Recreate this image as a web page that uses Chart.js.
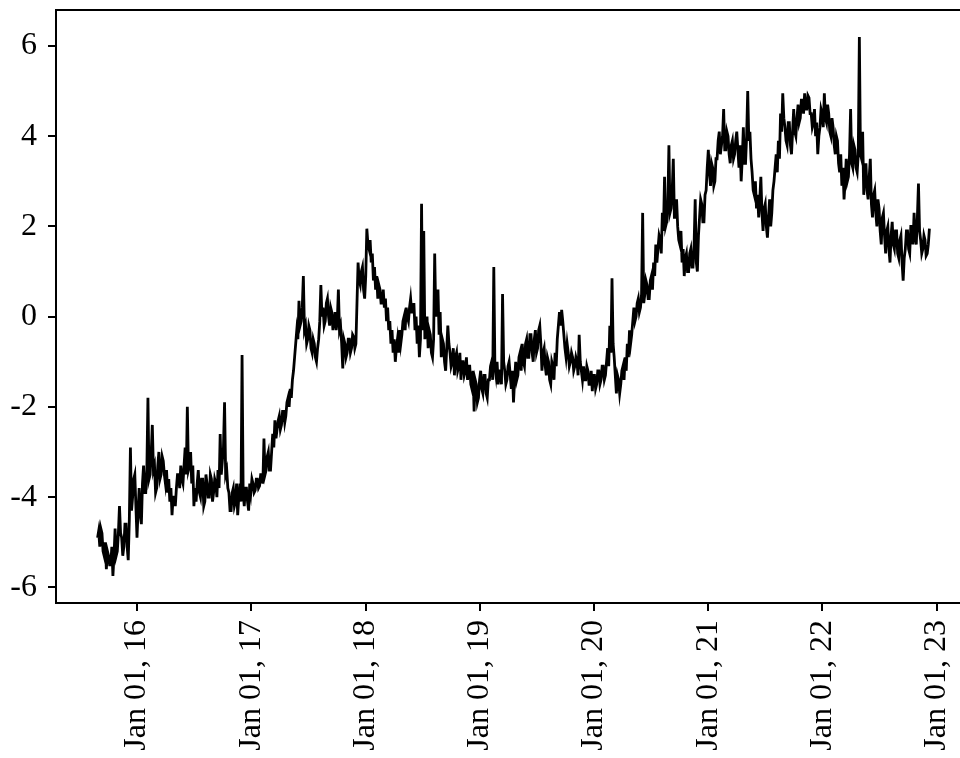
<!DOCTYPE html>
<html>
<head>
<meta charset="utf-8">
<script src="https://cdn.jsdelivr.net/npm/chart.js@4/dist/chart.umd.min.js"></script>
<style>
  html, body { margin: 0; padding: 0; background: #fff; overflow: hidden; }
  #wrap { width: 960px; height: 758px; overflow: hidden; }
  canvas { display: block; }
</style>
</head>
<body>
<div id="wrap"><canvas id="chart" width="1000" height="758"></canvas></div>
<script>
// Half-weekly observations (every 3.5 days), starting Friday 28 Aug 2015
const firstObservation = Date.UTC(2015, 7, 28);
const stepDays = 3.5;

const obs2015 = [-4.9, -4.75, -5.1, -4.7, -4.8, -5.2, -5.3, -5.0, -5.6, -5.2, -5.3, -5.5, -5.5, -5.1, -5.75, -5.3,
  -4.7, -5.3, -5.2, -4.8, -4.2, -4.8, -4.9, -5.3, -5.1, -4.6, -4.6, -5.1, -5.4, -4.5, -2.9, -4.3, -4.0, -3.6, -3.5, -4.2];
const obs2016 = [-4.9, -4.3, -3.8, -4.4, -4.6, -3.7, -3.3, -3.9, -3.9, -3.4, -1.8, -3.6, -3.5, -3.0, -2.4, -3.4,
  -3.3, -3.9, -3.8, -3.3, -3.0, -3.6, -3.5, -3.1, -3.2, -3.5, -3.7, -3.4, -3.9, -3.6, -4.1, -3.8, -4.4, -4.0,
  -4.0, -4.2, -3.8, -3.5, -3.5, -3.8, -3.3, -3.6, -3.7, -3.3, -2.9, -3.5, -2.0, -3.4, -3.3, -3.0, -3.7, -3.3,
  -4.2, -3.8, -4.1, -3.7, -3.4, -3.9, -4.0, -3.6, -3.6, -4.2, -4.1, -3.5, -3.7, -4.0, -4.0, -3.5, -3.6, -4.1,
  -3.9, -3.6, -3.7, -4.0, -3.4, -3.8, -2.6, -3.5, -3.2, -2.9, -1.9, -3.5, -3.4, -3.8, -3.9, -4.3, -4.3, -3.9,
  -3.8, -4.2, -4.1, -3.7, -4.4, -4.0, -3.7, -4.1, -0.85, -3.9, -4.2, -3.8, -3.8, -4.1, -4.3, -3.7, -3.9, -3.6];
const obs2017 = [-3.7, -3.9, -3.85, -3.6, -3.6, -3.8, -3.75, -3.5, -3.5, -3.7, -2.7, -3.5, -3.4, -3.1, -3.0, -3.4,
  -3.4, -3.0, -2.6, -2.9, -2.3, -2.7, -2.5, -2.3, -2.2, -2.5, -2.4, -2.1, -2.1, -2.35, -2.2, -1.9, -1.8, -2.0,
  -1.6, -1.8, -1.4, -1.2, -0.9, -0.6, -0.3, -0.5, 0.35, -0.2, -0.1, 0.2, 0.9, -0.3, -0.2, -0.6, -0.5, -0.2,
  -0.3, -0.7, -0.8, -0.5, -0.6, -0.9, -1.0, -0.7, -0.5, -0.1, 0.7, 0.0, 0.2, -0.2, -0.1, 0.3, 0.4, 0.0,
  -0.2, 0.2, 0.1, -0.3, -0.1, 0.1, -0.3, -0.1, 0.6, -0.3, -0.2, -0.6, -1.15, -0.5, -0.6, -0.9, -0.8, -0.5,
  -0.5, -0.8, -0.7, -0.4, -0.45, -0.7, -0.6, 0.3, 1.2, 0.8, 0.7, 1.0, 1.1, 0.6, 0.4, 0.9];
const obs2018 = [1.95, 1.6, 1.5, 1.7, 1.2, 1.4, 0.8, 1.1, 0.6, 0.9, 0.4, 0.7, 0.6, 0.3, 0.3, 0.6, 0.2, 0.4,
  -0.1, 0.2, -0.3, -0.1, -0.6, -0.3, -0.8, -0.5, -1.0, -0.7, -0.5, -0.8, -0.3, -0.6, -0.4, -0.1, 0.0, -0.3,
  0.2, 0.0, -0.1, 0.2, 0.4, 0.1, 0.1, 0.3, -0.3, 0.0, -0.6, -0.2, -0.9, -0.5, 2.5, -0.3, 1.9, -0.5,
  -0.3, 0.0, -0.7, -0.3, -0.4, -0.8, -0.9, -0.5, 1.4, 0.0, 0.3, 0.6, -0.4, 0.1, -0.9, -0.5, -0.6, -1.0,
  -1.2, -0.7, -0.2, -0.6, -0.8, -1.1, -1.0, -0.7, -1.3, -0.9, -0.8, -1.2, -1.1, -0.8, -1.4, -1.0, -1.0, -1.3,
  -1.2, -0.9, -1.4, -1.1, -1.1, -1.5, -1.6, -1.2, -2.1, -1.4, -1.5, -1.9, -1.8, -1.4];
const obs2019 = [-1.2, -1.6, -1.7, -1.3, -1.3, -1.7, -1.8, -1.4, -1.4, -1.1, -1.0, -1.4, 1.1, -1.1, -1.3, -1.0,
  -1.5, -1.2, -1.2, -1.5, 0.5, -1.0, -1.2, -1.5, -1.4, -1.1, -1.0, -1.3, -1.6, -1.2, -1.9, -1.4, -1.0, -1.4,
  -1.3, -0.9, -0.8, -1.2, -0.6, -1.0, -1.1, -0.6, -0.5, -0.9, -0.9, -0.4, -0.4, -0.8, -1.0, -0.5, -0.3, -0.8,
  -0.7, -0.3, -0.2, -0.6, -1.2, -0.8, -0.7, -1.1, -1.3, -0.9, -1.0, -1.4, -1.5, -1.0, -1.1, -1.4, -0.8, -1.1,
  -0.5, -0.2, 0.1, -0.2, 0.15, -0.1, -0.4, -0.7, -0.9, -0.6, -0.8, -1.1, -1.0, -0.8, -0.9, -1.2, -1.1, -0.9,
  -1.0, -1.3, -0.4, -1.0, -1.2, -1.4, -1.1, -1.4, -1.4, -1.1, -1.2, -1.5, -1.5, -1.2, -1.65, -1.3];
const obs2020 = [-1.3, -1.6, -1.5, -1.2, -1.2, -1.5, -1.4, -1.1, -1.1, -1.4, -1.3, -1.0, -0.7, -1.1, -0.2, -0.8,
  0.85, -0.6, -0.9, -1.3, -1.7, -1.3, -1.4, -1.7, -1.5, -1.2, -1.1, -1.4, -0.9, -1.2, -0.6, -0.9, -0.3, -0.6,
  -0.4, -0.1, 0.2, -0.1, 0.0, 0.3, 0.4, 0.1, 0.2, 0.5, 2.3, 0.3, 0.5, 0.8, 0.7, 0.4, 0.4, 0.8,
  0.9, 0.6, 1.2, 0.9, 1.6, 1.2, 1.5, 1.8, 1.7, 1.4, 2.3, 1.9, 3.1, 2.0, 2.1, 2.5, 3.8, 2.3, 2.4, 2.8,
  3.5, 2.2, 2.2, 2.6, 2.0, 1.7, 1.6, 1.9, 1.2, 1.5, 0.9, 1.3, 1.4, 1.0, 1.0, 1.4, 1.5, 1.1, 1.1, 1.6,
  2.6, 1.2, 1.0, 1.8, 2.2, 2.6, 2.5, 2.1, 2.1, 2.7, 2.8, 3.3];
const obs2021 = [3.7, 3.2, 2.9, 3.4, 3.3, 2.9, 3.0, 3.5, 3.5, 3.9, 4.1, 3.6, 3.8, 4.0, 4.6, 3.7, 3.7, 4.1,
  4.0, 3.6, 3.4, 3.8, 3.9, 3.5, 3.6, 3.9, 4.1, 3.7, 3.3, 3.8, 3.0, 3.5, 4.2, 3.4, 3.4, 4.0, 5.0, 3.9,
  4.1, 3.5, 3.2, 2.8, 2.7, 3.0, 2.4, 2.7, 2.2, 2.6, 3.1, 2.3, 1.9, 2.4, 2.5, 2.0, 1.75, 2.2, 2.6, 2.0,
  2.3, 2.8, 3.0, 3.3, 3.6, 3.2, 3.9, 3.5, 4.5, 4.1, 4.95, 4.4, 4.2, 3.9, 3.8, 4.3, 4.3, 3.8, 3.6, 4.1,
  4.6, 4.1, 4.0, 4.4, 4.7, 4.3, 4.4, 4.8, 4.8, 4.5, 4.95, 4.6, 4.6, 4.9, 4.85, 4.5, 4.5, 4.2, 4.3, 4.6,
  4.0, 4.3, 3.6, 4.0, 4.2, 4.6, 4.5, 4.2];
const obs2022 = [4.95, 4.4, 4.3, 4.7, 4.5, 4.1, 4.0, 4.4, 4.2, 3.8, 3.6, 4.0, 3.9, 3.4, 3.2, 3.6, 2.9, 3.3,
  2.6, 3.0, 3.5, 3.0, 3.1, 3.6, 4.6, 3.4, 3.3, 3.8, 3.7, 3.3, 3.2, 3.6, 6.2, 3.6, 3.5, 4.1, 2.7, 3.2,
  3.4, 2.8, 2.6, 3.1, 3.5, 2.5, 2.2, 2.7, 2.8, 2.3, 2.0, 2.6, 2.4, 1.9, 1.6, 2.2, 2.3, 1.8, 1.4, 1.9,
  2.0, 1.5, 1.2, 1.8, 2.1, 1.6, 1.5, 1.9, 1.9, 1.4, 1.3, 1.7, 1.8, 1.2, 0.8, 1.3, 1.5, 1.9, 1.9, 1.5,
  1.4, 2.0, 2.0, 1.6, 2.3, 1.8, 1.6, 2.2, 2.95, 1.9, 1.7, 1.4, 1.5, 1.8, 1.7, 1.35, 1.4, 1.6, 1.95];

const tickYears = [2016, 2017, 2018, 2019, 2020, 2021, 2022, 2023];
const yTicks = [-6, -4, -2, 0, 2, 4, 6];
const monthNames = ['Jan', 'Feb', 'Mar', 'Apr', 'May', 'Jun', 'Jul', 'Aug', 'Sep', 'Oct', 'Nov', 'Dec'];

const DAY = 86400000;
const values = [].concat(obs2015, obs2016, obs2017, obs2018, obs2019, obs2020, obs2021, obs2022);
const startDay = firstObservation / DAY;
const points = values.map((v, i) => ({ x: startDay + stepDays * i, y: v }));

// 5% margins around the data on both axes
const xMin0 = points[0].x, xMax0 = points[points.length - 1].x;
const yMin0 = Math.min(...values), yMax0 = Math.max(...values);
const xPad = (xMax0 - xMin0) * 0.05, yPad = (yMax0 - yMin0) * 0.05;

const fontFamily = '"Liberation Serif", "Times New Roman", serif';
const fontSize = 32;

const framePlugin = {
  id: 'frame',
  afterDraw(chart) {
    const { ctx, chartArea: a } = chart;
    ctx.save();
    ctx.strokeStyle = '#000';
    ctx.lineWidth = 2;
    ctx.strokeRect(a.left, a.top, a.right - a.left, a.bottom - a.top);
    ctx.restore();
  }
};

function draw() {
  new Chart(document.getElementById('chart'), {
    type: 'line',
    data: {
      datasets: [{
        data: points,
        borderColor: '#000',
        borderWidth: 2.8,
        borderJoinStyle: 'miter',
        pointRadius: 0,
        tension: 0,
        fill: false
      }]
    },
    options: {
      responsive: false,
      animation: false,
      devicePixelRatio: 1,
      layout: { padding: { left: 0, top: 10, right: 29, bottom: 0 } },
      plugins: { legend: { display: false }, tooltip: { enabled: false } },
      scales: {
        x: {
          type: 'linear',
          min: xMin0 - xPad,
          max: xMax0 + xPad,
          afterFit(scale) {
            scale.height = 155;
            scale.paddingLeft = 0;
            scale.paddingRight = 0;
          },
          afterBuildTicks(scale) {
            scale.ticks = tickYears.map(y => ({ value: Date.UTC(y, 0, 1) / DAY }));
          },
          grid: { display: true, drawOnChartArea: false, drawTicks: true, tickLength: 8, color: '#000', lineWidth: 2 },
          border: { display: false },
          ticks: {
            minRotation: 90,
            maxRotation: 90,
            autoSkip: false,
            padding: 9,
            color: '#000',
            font: { family: fontFamily, size: fontSize },
            callback(v) {
              const d = new Date(v * DAY);
              return monthNames[d.getUTCMonth()] + ' ' + String(d.getUTCDate()).padStart(2, '0') + ', ' +
                String(d.getUTCFullYear()).slice(2);
            }
          }
        },
        y: {
          type: 'linear',
          min: yMin0 - yPad,
          max: yMax0 + yPad,
          afterFit(scale) {
            scale.width = 56;
            scale.paddingTop = 0;
            scale.paddingBottom = 0;
          },
          afterBuildTicks(scale) { scale.ticks = yTicks.map(v => ({ value: v })); },
          grid: { display: true, drawOnChartArea: false, drawTicks: true, tickLength: 8, color: '#000', lineWidth: 2 },
          border: { display: false },
          ticks: {
            padding: 11,
            color: '#000',
            font: { family: fontFamily, size: fontSize },
            callback(v) { return String(v); }
          }
        }
      }
    },
    plugins: [framePlugin]
  });
}

if (document.fonts && document.fonts.load) {
  document.fonts.load(fontSize + 'px "Liberation Serif"').then(draw, draw);
} else {
  draw();
}
</script>
</body>
</html>
